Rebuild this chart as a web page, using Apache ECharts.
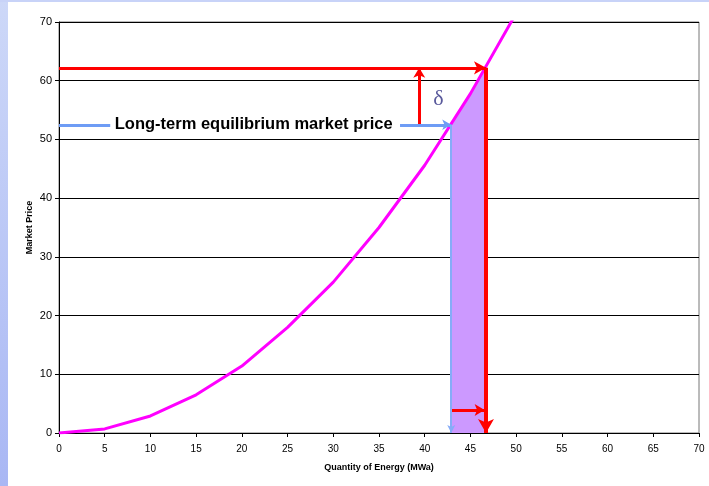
<!DOCTYPE html>
<html>
<head>
<meta charset="utf-8">
<script src="https://cdn.jsdelivr.net/npm/echarts@6/dist/echarts.min.js"></script>
<style>
  html, body { margin: 0; padding: 0; background: #fff; }
  #chart { width: 709px; height: 486px; }
</style>
</head>
<body>
<div id="chart"></div>
<script>
// supply curve
const qty = [0, 5, 10, 15, 20, 25, 30, 35, 40, 45, 50];
const price = [0, 0.7, 2.9, 6.5, 11.4, 18, 25.7, 35, 45.6, 57.8, 71.5];

// equilibrium and shocked points
const eqQty = 42.9, eqPrice = 52.5;
const shockQty = 46.7, shockPrice = 62.2;
const riseQty = 39.4;       // x of the small red up-arrow
const blueArrowFrom = 37.3; // start of blue arrow after the text
const blueLineTo = 5.6;     // blue lead-in line before the text
const shiftY = 3.9;         // y of the small red right-arrow
const labelText = 'Long-term equilibrium market price';

const chart = echarts.init(document.getElementById('chart'));

const red = '#ff0000', blue = '#6e9cf5';
const font = 'Liberation Sans, Arial';

// one arrow/segment for markLine
const arrow = (from, to, color, width, head) => [
  { coord: from, symbol: 'none', lineStyle: { color: color, width: width, type: 'solid' } },
  { coord: to, symbol: head ? 'arrow' : 'none', symbolSize: head || 0 }
];

const option = {
  animation: false,
  backgroundColor: '#fff',
  graphic: [
    { type: 'rect', left: 0, top: 0, z: -10, shape: { width: 8, height: 486 },
      style: { fill: new echarts.graphic.LinearGradient(0, 0, 0, 1, [
        { offset: 0, color: '#cdd8f8' }, { offset: 1, color: '#a9b7f4' }]) } },
    { type: 'rect', left: 0, top: 0, z: -10, shape: { width: 709, height: 2 },
      style: { fill: '#c8d3f8' } }
  ],
  grid: { left: 59, top: 22, right: 10, bottom: 53, show: true, borderColor: '#777', borderWidth: 1 },
  xAxis: {
    type: 'value', min: 0, max: 70, interval: 5,
    name: 'Quantity of Energy (MWa)', nameLocation: 'middle', nameGap: 30,
    nameMoveOverlap: false,
    nameTextStyle: { fontFamily: font, fontWeight: 'bold', fontSize: 9, color: '#000' },
    axisLine: { lineStyle: { color: '#000', width: 1 } },
    axisTick: { show: true, length: 4, lineStyle: { color: '#000' } },
    axisLabel: { fontFamily: font, fontSize: 10, color: '#000', margin: 11 },
    splitLine: { show: false }
  },
  yAxis: {
    type: 'value', min: 0, max: 70, interval: 10,
    name: 'Market Price', nameLocation: 'middle', nameGap: 25, nameRotate: 90,
    nameMoveOverlap: false,
    nameTextStyle: { fontFamily: font, fontWeight: 'bold', fontSize: 9, color: '#000' },
    axisLine: { show: true, lineStyle: { color: '#000', width: 1 } },
    axisTick: { show: true, length: 4, lineStyle: { color: '#000' } },
    axisLabel: { fontFamily: font, fontSize: 11, color: '#000', margin: 7 },
    splitLine: { lineStyle: { color: '#000', width: 1 } }
  },
  series: [
    {
      // shaded wedge under the curve
      type: 'line', z: 1, symbol: 'none',
      data: [[eqQty, eqPrice], [shockQty, shockPrice]],
      lineStyle: { width: 0 },
      areaStyle: { color: '#cc99ff', opacity: 1 }
    },
    {
      type: 'line', z: 3, symbol: 'none', clip: true,
      data: qty.map((q, i) => [q, price[i]]),
      lineStyle: { color: '#ff00ff', width: 3 }
    },
    {
      type: 'line', z: 4, data: [], symbol: 'none',
      markLine: {
        silent: true, animation: false,
        label: { show: false },
        data: [
          arrow([0, shockPrice], [shockQty, shockPrice], red, 3, [10, 12]),
          arrow([shockQty, shockPrice], [shockQty, 0], red, 4, [12, 14]),
          arrow([riseQty, eqPrice], [riseQty, shockPrice], red, 3, [9, 10]),
          arrow([eqQty, shiftY], [shockQty - 0.15, shiftY], red, 3, [9, 10]),
          arrow([0, eqPrice], [blueLineTo, eqPrice], blue, 3, null),
          arrow([blueArrowFrom, eqPrice], [eqQty, eqPrice], blue, 3, [8, 9]),
          arrow([eqQty, eqPrice], [eqQty, 0], '#86acf8', 2, [6, 8])
        ]
      },
      markPoint: {
        silent: true, symbol: 'circle', symbolSize: 0,
        data: [
          { coord: [6.1, eqPrice], label: { show: true, position: 'right', distance: 0, formatter: labelText,
              fontFamily: font, fontWeight: 'bold', fontSize: 16.5, color: '#000' } },
          { coord: [41.5, 56.8], label: { show: true, position: 'inside', formatter: 'δ',
              fontFamily: 'Liberation Serif, DejaVu Serif, serif', fontSize: 22, color: '#5a5a9c' } }
        ]
      }
    }
  ]
};

chart.setOption(option);
</script>
</body>
</html>
